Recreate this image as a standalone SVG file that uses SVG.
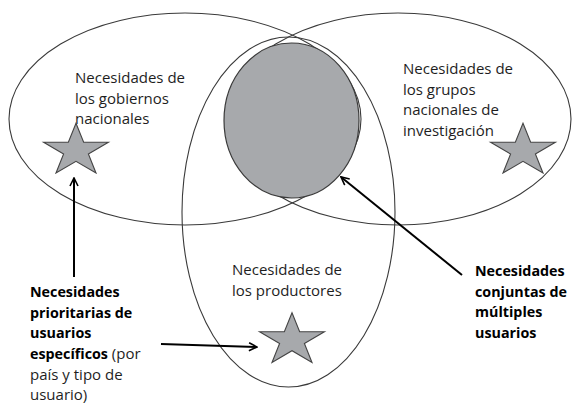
<svg xmlns="http://www.w3.org/2000/svg" width="573" height="405" viewBox="0 0 573 405">
<style>
.ell{fill:none;stroke:#3a3a3a;stroke-width:1.1}
.t{font-family:"Open Sans","Liberation Sans",sans-serif;font-size:15px;fill:#1e1e1e}
.b{font-family:"Open Sans","Liberation Sans",sans-serif;font-size:14.3px;font-weight:bold;fill:#000}
.star{fill:#a7a9ac;stroke:#444;stroke-width:1.1;stroke-linejoin:miter}
.arr{fill:none;stroke:#000;stroke-width:2;marker-end:url(#ah)}
</style>
<defs>
<marker id="ah" viewBox="0 0 10 10" refX="9" refY="5" markerWidth="5" markerHeight="5" orient="auto" markerUnits="strokeWidth">
<path d="M1,1 L9,5 L1,9" fill="none" stroke="#000" stroke-width="1.6"/>
</marker>
<path id="starShape" d="M0,-27.5 L7.65,-8.5 L32.4,-8.5 L12.4,3.25 L20,22.25 L0,10.5 L-20,22.25 L-12.4,3.25 L-32.4,-8.5 L-7.65,-8.5 Z"/>
</defs>
<g id="gobiernos">
<ellipse class="ell" cx="185" cy="119" rx="176" ry="106"/>
</g>
<g id="grupos">
<ellipse class="ell" cx="398" cy="119" rx="173" ry="106"/>
</g>
<g id="productores">
<ellipse class="ell" cx="288.5" cy="212" rx="106.5" ry="175"/>
</g>
<g id="conjuntas-area">
<ellipse cx="291.5" cy="120.5" rx="67.5" ry="77.5" fill="#a7a9ac" stroke="#3a3a3a" stroke-width="1.2"/>
</g>
<g id="label-gobiernos">
<text class="t" x="75" y="83">Necesidades de</text>
<text class="t" x="75" y="104">los gobiernos</text>
<text class="t" x="75" y="124">nacionales</text>
</g>
<g id="label-grupos">
<text class="t" x="403" y="74">Necesidades de</text>
<text class="t" x="403" y="95">los grupos</text>
<text class="t" x="403" y="115">nacionales de</text>
<text class="t" x="403" y="136">investigación</text>
</g>
<g id="label-productores">
<text class="t" x="232" y="275">Necesidades de</text>
<text class="t" x="232" y="296">los productores</text>
</g>
<g id="star-gobiernos"><use href="#starShape" class="star" transform="translate(76,150.8)"/></g>
<g id="star-grupos"><use href="#starShape" class="star" transform="translate(523,150.8)"/></g>
<g id="star-productores"><use href="#starShape" class="star" transform="translate(292,340.2)"/></g>
<g id="label-prioritarias">
<text class="b" x="30" y="297">Necesidades</text>
<text class="b" x="30" y="318">prioritarias de</text>
<text class="b" x="30" y="338">usuarios</text>
<text class="t" x="30" y="359"><tspan class="b">específicos</tspan> (por</text>
<text class="t" x="30" y="380">país y tipo de</text>
<text class="t" x="30" y="400">usuario)</text>
</g>
<g id="label-conjuntas">
<text class="b" x="475" y="276">Necesidades</text>
<text class="b" x="475" y="297">conjuntas de</text>
<text class="b" x="475" y="317">múltiples</text>
<text class="b" x="475" y="338">usuarios</text>
</g>
<g id="connectors">
<line class="arr" x1="74" y1="277" x2="74" y2="178"/>
<line class="arr" x1="161" y1="344" x2="257" y2="347"/>
<line class="arr" x1="462" y1="275" x2="341" y2="177"/>
</g>
</svg>
